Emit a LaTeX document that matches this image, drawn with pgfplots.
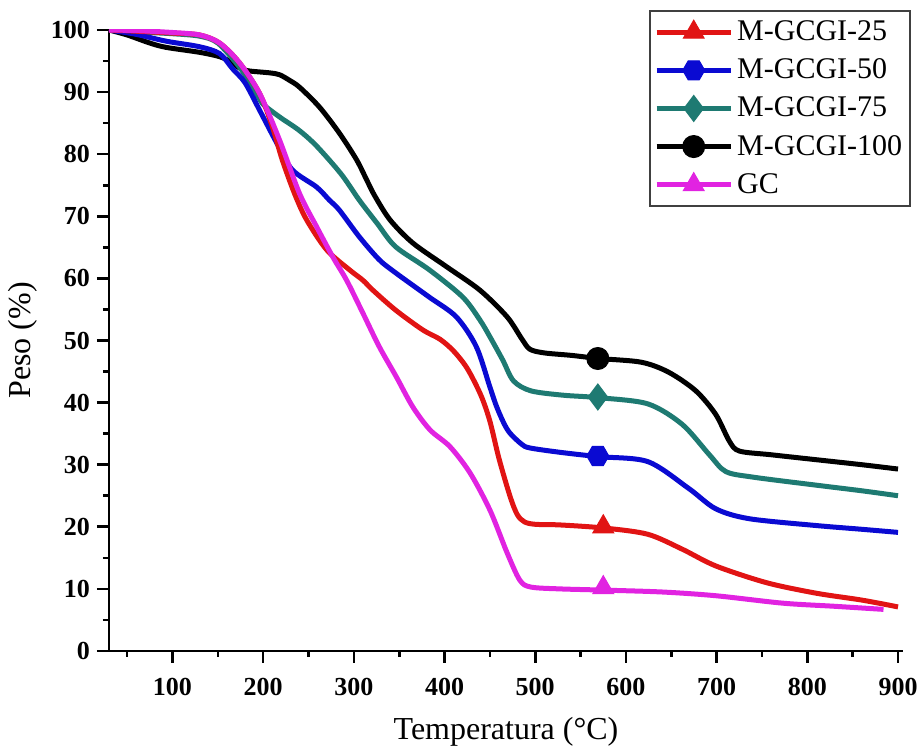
\documentclass[border=0pt]{standalone}
\usepackage{fontspec}
\setmainfont{Liberation Serif}
\usepackage{pgfplots}
\pgfplotsset{compat=1.18}
\usetikzlibrary{plotmarks}
\definecolor{cred}{RGB}{225,20,20}
\definecolor{cblue}{RGB}{10,10,210}
\definecolor{cteal}{RGB}{30,122,114}
\definecolor{cmag}{RGB}{225,35,225}
\pgfdeclareplotmark{hexagon*}{%
  \pgfpathmoveto{\pgfqpointpolar{0}{\pgfplotmarksize}}%
  \pgfpathlineto{\pgfqpointpolar{60}{\pgfplotmarksize}}%
  \pgfpathlineto{\pgfqpointpolar{120}{\pgfplotmarksize}}%
  \pgfpathlineto{\pgfqpointpolar{180}{\pgfplotmarksize}}%
  \pgfpathlineto{\pgfqpointpolar{240}{\pgfplotmarksize}}%
  \pgfpathlineto{\pgfqpointpolar{300}{\pgfplotmarksize}}%
  \pgfpathclose
  \pgfusepathqfillstroke}
\begin{document}
\begin{tikzpicture}
\begin{axis}[name=ax,
  scale only axis, width=397pt, height=310.5pt,
  xmin=30, xmax=905.5, ymin=0, ymax=100, enlargelimits=false,
  axis lines=left, axis line style={-, line width=1.3pt},
  every tick/.style={black, line width=1.3pt},
  tick align=outside, major tick length=6pt, minor tick length=3pt,
  xtick={100,200,...,900}, ytick={0,10,...,100},
  minor xtick={50,150,...,850}, minor ytick={5,15,...,95},
  /pgf/number format/assume math mode=true,
  ticklabel style={font=\bfseries\fontsize{13}{15}\selectfont},
  xticklabel style={yshift=-4pt},
  xlabel={Temperatura (°C)}, ylabel={Peso (\%)},
  label style={font=\fontsize{16}{19}\selectfont},
  xlabel style={yshift=-4pt},
  legend style={at={(1,1)}, anchor=north east, xshift=4pt, yshift=10pt,
    draw=black!75, line width=0.8pt, font=\fontsize{15}{18}\selectfont,
    cells={anchor=west}, inner xsep=2pt, inner ysep=3pt, row sep=3.6pt},
  legend image code/.code={\draw[mark repeat=2,mark phase=2] plot coordinates {(0cm,0cm) (0.65cm,0cm) (1.3cm,0cm)};},
]
\addlegendimage{cred, line width=2.5pt, mark=triangle*, mark size=6pt, mark options={line width=0.5pt, solid}}
\addlegendimage{cblue, line width=2.5pt, mark=hexagon*, mark size=5.5pt, mark options={line width=0.5pt, solid}}
\addlegendimage{cteal, line width=2.5pt, mark=diamond*, mark size=6.5pt, mark options={line width=0.5pt, solid}}
\addlegendimage{black, line width=2.5pt, mark=*, mark size=5.5pt, mark options={line width=0.5pt, solid}}
\addlegendimage{cmag, line width=2.5pt, mark=triangle*, mark size=6pt, mark options={line width=0.5pt, solid}}
\legend{M-GCGI-25, M-GCGI-50, M-GCGI-75, M-GCGI-100, GC}

% M-GCGI-100 (black)
\addplot[black, line width=2.5pt, smooth, forget plot] coordinates {
(30,100) (50,99.2) (75,97.9) (93,97.2) (130,96.4) (152,95.7) (165,94.8) (175,93.8) (185,93.4) (207,93.1) (218,92.8) (229,91.9) (240,90.8) (262,87.6) (284,83.4) (303,79.1) (314,75.9) (323,73.3) (340,69.4) (365,65.7) (402,61.9) (439,58.1) (469,53.8) (485,50.3) (494,48.6) (510,48.0) (540,47.6) (570,47.1) (617,46.5) (647,44.9) (677,41.9) (699,38.1) (714,33.8) (725,32.2) (760,31.6) (810,30.8) (860,30.0) (900,29.3)};
% M-GCGI-75 (teal)
\addplot[cteal, line width=2.5pt, smooth, forget plot] coordinates {
(30,100) (60,99.7) (100,99.4) (130,99.0) (150,97.9) (175,93.8) (190,90.3) (199,88.2) (206,87.3) (220,85.8) (240,83.8) (259,81.3) (286,76.8) (306,72.6) (326,68.8) (346,65.1) (383,61.4) (420,57.0) (439,53.3) (450,50.6) (464,46.9) (476,43.5) (495,41.9) (530,41.2) (569,40.8) (624,39.8) (662,36.5) (692,31.6) (710,28.9) (740,28.0) (810,26.7) (860,25.8) (900,25.0)};
% M-GCGI-50 (blue)
\addplot[cblue, line width=2.5pt, smooth, forget plot] coordinates {
(30,100) (60,99.3) (93,98.2) (130,97.3) (152,96.2) (166,93.8) (180,91.5) (196,87.1) (215,81.8) (232,77.5) (259,74.7) (273,72.6) (284,71.0) (306,66.7) (328,63.0) (346,60.9) (383,57.0) (413,53.8) (435,49.0) (450,42.5) (457,39.5) (465,36.8) (472,35.1) (485,33.3) (494,32.7) (527,32.0) (569,31.3) (624,30.5) (669,26.2) (699,22.9) (736,21.3) (810,20.2) (860,19.6) (900,19.1)};
% M-GCGI-25 (red)
\addplot[cred, line width=2.5pt, smooth, forget plot] coordinates {
(30,100) (60,99.8) (100,99.5) (130,99.2) (152,97.9) (174,94.7) (196,89.8) (210,84.5) (221,79.1) (235,73.5) (248,69.4) (270,64.6) (295,61.4) (310,59.7) (321,58.1) (346,54.9) (376,51.7) (395,50.2) (410,48.3) (425,45.5) (440,41.2) (450,37.0) (460,31.0) (472,25.0) (480,22.0) (488,20.8) (500,20.4) (527,20.3) (576,19.8) (624,18.8) (662,16.4) (699,13.7) (755,11.0) (810,9.3) (860,8.2) (900,7.1)};
% GC (magenta)
\addplot[cmag, line width=2.5pt, smooth, forget plot] coordinates {
(30,100) (60,99.9) (100,99.6) (130,99.2) (152,97.9) (174,94.7) (196,89.8) (218,82.3) (240,73.7) (259,68.3) (277,63.4) (292,59.7) (310,54.4) (328,49.0) (347,44.1) (365,39.3) (384,35.6) (406,32.9) (428,28.7) (450,22.7) (469,15.8) (483,11.4) (495,10.3) (527,10.0) (576,9.8) (640,9.5) (699,8.9) (773,7.7) (830,7.2) (884,6.7)};

% markers
\addplot[only marks, cred, mark=triangle*, mark size=6pt, mark options={line width=0.5pt}, forget plot] coordinates {(575,20.0)};
\addplot[only marks, cblue, mark=hexagon*, mark size=5.5pt, mark options={line width=0.5pt}, forget plot] coordinates {(569,31.4)};
\addplot[only marks, cteal, mark=diamond*, mark size=6.5pt, mark options={line width=0.5pt}, forget plot] coordinates {(569,40.9)};
\addplot[only marks, black, mark=*, mark size=5.5pt, mark options={line width=0.5pt}, forget plot] coordinates {(569,47.1)};
\addplot[only marks, cmag, mark=triangle*, mark size=6pt, mark options={line width=0.5pt}, forget plot] coordinates {(575,10.2)};
\end{axis}
\pgfresetboundingbox
\path (ax.south west) ++(-54.5pt,-49.5pt) rectangle ++(459pt,375pt);
\end{tikzpicture}
\end{document}
